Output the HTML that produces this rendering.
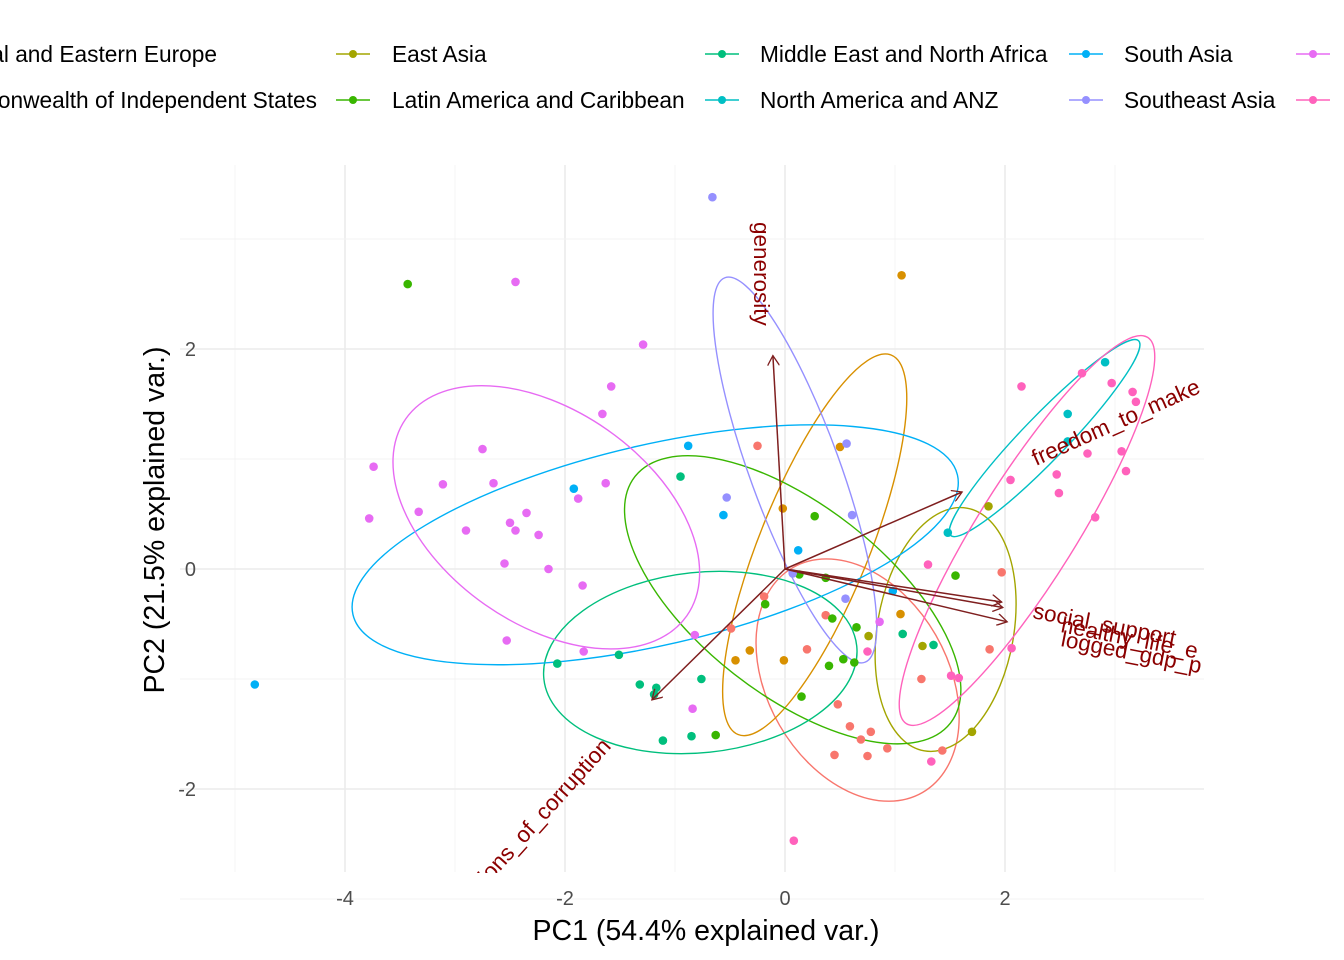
<!DOCTYPE html>
<html><head><meta charset="utf-8"><style>
body{margin:0;background:#fff;}
svg{display:block;font-family:"Liberation Sans",Arial,sans-serif;}
</style></head><body>
<svg id="chart" width="1344" height="960" viewBox="0 0 1344 960">
<defs><clipPath id="pclip"><rect x="180" y="165" width="1024" height="708"/></clipPath>
<marker id="arr" markerWidth="12" markerHeight="12" refX="10" refY="6" orient="auto" markerUnits="userSpaceOnUse"><path d="M0,0 L10,6 L0,12" fill="none" stroke="#7f1f1f" stroke-width="1.3"/></marker></defs>
<g id="grid"></g>
<g id="plot" clip-path="url(#pclip)"></g>
<g id="axes"></g>
<g id="legend"></g>
<text x="706" y="940" font-size="28.5" text-anchor="middle" fill="#000">PC1 (54.4% explained var.)</text>
<text transform="translate(164,520) rotate(-90)" font-size="28.5" text-anchor="middle" fill="#000">PC2 (21.5% explained var.)</text>
</svg>
<script>
const groups=["Central and Eastern Europe","Commonwealth of Independent States","East Asia","Latin America and Caribbean","Middle East and North Africa","North America and ANZ","South Asia","Southeast Asia","Sub-Saharan Africa","Western Europe"];
const colors=["#F8766D","#D89000","#A3A500","#39B600","#00BF7D","#00BFC4","#00B0F6","#9590FF","#E76BF3","#FF62BC"];
const xTicks=[-4,-2,0,2];
const yTicks=[-2,0,2];
// points per group: [pc1, pc2]
const ptsCEE=[[-0.25,1.12],[-0.19,-0.25],[-0.49,-0.54],[0.2,-0.73],[0.37,-0.42],[1.24,-1.0],[0.48,-1.23],[0.59,-1.43],[0.69,-1.55],[0.78,-1.48],[0.93,-1.63],[0.45,-1.69],[0.75,-1.70],[1.43,-1.65],[1.97,-0.03],[1.86,-0.73]];
const ptsCIS=[[1.06,2.67],[0.5,1.11],[-0.02,0.55],[1.05,-0.41],[-0.01,-0.83],[-0.45,-0.83],[-0.32,-0.74]];
const ptsEA=[[1.85,0.57],[1.25,-0.70],[0.76,-0.61],[1.70,-1.48]];
const ptsLA=[[-3.43,2.59],[0.13,-0.05],[0.37,-0.08],[-0.18,-0.32],[0.43,-0.45],[0.65,-0.53],[0.53,-0.82],[0.63,-0.85],[0.4,-0.88],[0.15,-1.16],[-0.63,-1.51],[1.55,-0.06],[0.27,0.48]];
const ptsME=[[-0.95,0.84],[-2.07,-0.86],[-1.51,-0.78],[-1.32,-1.05],[-1.17,-1.08],[-1.19,-1.14],[-0.76,-1.0],[-1.11,-1.56],[-0.85,-1.52],[1.07,-0.59],[1.35,-0.69]];
const ptsNA=[[2.57,1.41],[2.91,1.88],[2.57,1.16],[1.48,0.33]];
const ptsSA=[[-4.82,-1.05],[-1.92,0.73],[-0.88,1.12],[-0.56,0.49],[0.12,0.17],[0.98,-0.2]];
const ptsSEA=[[-0.66,3.38],[-0.53,0.65],[0.56,1.14],[0.61,0.49],[0.55,-0.27],[0.07,-0.04]];
const ptsSSA=[[-2.45,2.61],[-1.29,2.04],[-1.58,1.66],[-1.66,1.41],[-2.75,1.09],[-3.74,0.93],[-3.11,0.77],[-2.65,0.78],[-3.33,0.52],[-2.9,0.35],[-2.35,0.51],[-2.5,0.42],[-2.45,0.35],[-2.24,0.31],[-1.88,0.64],[-1.63,0.78],[-2.55,0.05],[-2.15,0.0],[-1.84,-0.15],[-2.53,-0.65],[-1.83,-0.75],[-0.82,-0.6],[-0.84,-1.27],[0.86,-0.48],[-3.78,0.46]];
const ptsWE=[[2.15,1.66],[2.70,1.78],[2.97,1.69],[3.16,1.61],[3.19,1.52],[2.75,1.05],[3.06,1.07],[3.10,0.89],[2.47,0.86],[2.49,0.69],[2.05,0.81],[2.82,0.47],[1.30,0.04],[2.06,-0.72],[0.75,-0.75],[1.51,-0.97],[1.58,-0.99],[1.33,-1.75],[0.08,-2.47]];
const allPts=[ptsCEE,ptsCIS,ptsEA,ptsLA,ptsME,ptsNA,ptsSA,ptsSEA,ptsSSA,ptsWE];
// ellipses: center x, center y, semi-axes (data units), angle (deg, data frame)
const ellCx=[0.66,0.27,1.46,0.07,-0.77,2.36,-1.18,0.09,-2.17,2.2];
const ellCy=[-1.01,0.22,-0.55,-0.28,-0.85,1.19,0.22,0.90,0.47,0.35];
const ellA=[1.18,1.86,1.12,1.82,1.43,1.23,2.82,1.86,1.56,2.07];
const ellB=[0.82,0.50,0.62,0.86,0.82,0.20,0.91,0.41,0.97,0.45];
const ellAng=[-60,68,-100,-38,6,46,13,-70,-35,58];
// loadings
const varNames=["generosity","freedom_to_make","social_support","healthy_life_e","logged_gdp_p","perceptions_of_corruption"];
const loadX=[-0.11,1.61,1.97,1.98,2.02,-1.21];
const loadY=[1.94,0.70,-0.30,-0.35,-0.48,-1.19];

const X=v=>785+v*110, Y=v=>569-v*110;
const NS="http://www.w3.org/2000/svg";
function mk(tag,attrs,parent){const e=document.createElementNS(NS,tag);for(const k in attrs)e.setAttribute(k,attrs[k]);parent.appendChild(e);return e;}
const grid=document.getElementById('grid'),plot=document.getElementById('plot'),axes=document.getElementById('axes'),legend=document.getElementById('legend');
for(let v=-5;v<=3;v++){const l=mk('line',{x1:X(v),x2:X(v),y1:165,y2:872,stroke:v%2===0?'#ebebeb':'#f3f3f3','stroke-width':v%2===0?1.6:0.9},grid);

}
for(let v=-3;v<=3;v++){if(Y(v)<165)continue;const l=mk('line',{x1:180,x2:1204,y1:Y(v),y2:Y(v),stroke:v%2===0?'#ebebeb':'#f3f3f3','stroke-width':v%2===0?1.6:0.9},grid);

}
xTicks.forEach(v=>{const t=mk('text',{x:X(v),y:905,'font-size':20,'text-anchor':'middle',fill:'#4d4d4d'},axes);t.textContent=v;

});
yTicks.forEach(v=>{const t=mk('text',{x:196,y:Y(v)+7,'font-size':20,'text-anchor':'end',fill:'#4d4d4d'},axes);t.textContent=v;

});
groups.forEach((g,i)=>{const e=mk('ellipse',{cx:X(ellCx[i]),cy:Y(ellCy[i]),rx:ellA[i]*110,ry:ellB[i]*110,fill:'none',stroke:colors[i],'stroke-width':1.4,transform:`rotate(${-ellAng[i]} ${X(ellCx[i])} ${Y(ellCy[i])})`},plot);

});
allPts.forEach((arr,i)=>arr.forEach(p=>{const c=mk('circle',{cx:X(p[0]),cy:Y(p[1]),r:4.3,fill:colors[i]},plot);

}));
varNames.forEach((n,i)=>{const l=mk('line',{x1:X(0),y1:Y(0),x2:X(loadX[i]),y2:Y(loadY[i]),stroke:'#7f1f1f','stroke-width':1.5,'marker-end':'url(#arr)'},plot);

});
const labs=[[754,222,90,'start'],[1036,466,-24,'start'],[1032,618,11,'start'],[1060,632,11,'start'],[1060,646,11,'start'],[612,747,-48,'end']];
labs.forEach((L,i)=>{const t=mk('text',{transform:`translate(${L[0]},${L[1]}) rotate(${L[2]})`,'font-size':22.5,fill:'#8b0000','text-anchor':L[3]},plot);t.textContent=varNames[i];

});
const lx=[[217,'end'],[392,'start'],[760,'start'],[1124,'start'],[1352,'start']];
const kx=[-20,353,722,1086,1313];
groups.forEach((g,i)=>{const col=Math.floor(i/2),row=i%2,y=row?100:54;
const gr=mk('g',{},legend);


mk('line',{x1:kx[col]-17,x2:kx[col]+17,y1:y,y2:y,stroke:colors[i],'stroke-width':1.5},gr);
mk('circle',{cx:kx[col],cy:y,r:4,fill:colors[i]},gr);
const tx=(col===0&&row===1)?317:lx[col][0];
const t=mk('text',{x:tx,y:y+8,'font-size':22.7,'text-anchor':lx[col][1],fill:'#000'},gr);t.textContent=g;});
</script>
</body></html>
